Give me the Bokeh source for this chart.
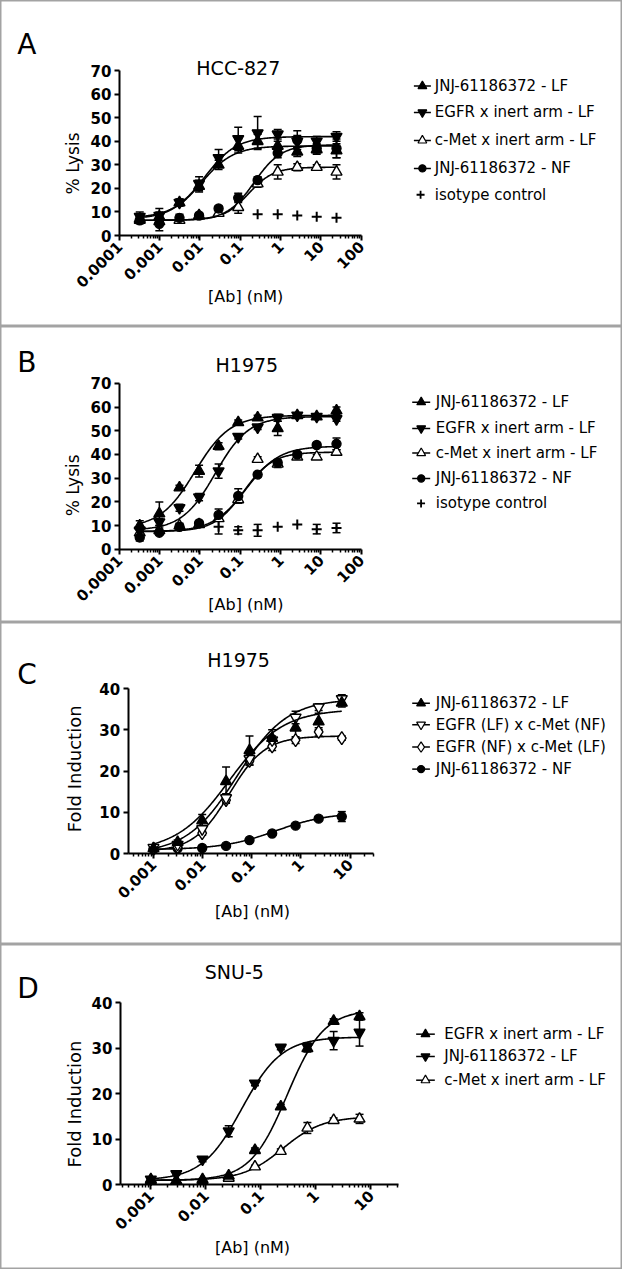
import math
import numpy as np
from bokeh.plotting import figure
from bokeh.layouts import column
from bokeh.models import (Range1d, LinearAxis, LogAxis, FixedTicker, CustomJSTickFormatter,
                          ColumnDataSource, Whisker, TeeHead, LinearScale)
from bokeh.core.properties import value
from bokeh.embed import file_html
from bokeh.resources import INLINE

# ---------------- data ----------------
# Panel A : HCC-827, % Lysis
conc_A = [0.00032, 0.00098, 0.0031, 0.0095, 0.029, 0.089, 0.27, 0.85, 2.6, 7.9, 24.5]
A_jnj_lf = [7, 8, 14, 21, 30, 38, 40, 38, 35.5, 36.5, 36]
A_jnj_lf_err = [1.5, 2, 1.5, 2.5, 2, 3, 3, 2, 2, 2, 3]
A_egfr = [8, 8.5, 14, 22, 33, 41, 43.5, 43, 40, 40, 42]
A_egfr_err = [2, 3, 1.5, 3, 3.5, 5, 7, 2, 2.5, 2, 2]
A_cmet = [6.5, 6, 6.5, 8.5, 9.5, 12, 22, 27, 29, 29, 27]
A_cmet_err = [1, 1, 1, 1, 1, 2.5, 1.5, 3, 1.5, 1, 3]
A_nf = [6.5, 5, 7.5, 8.5, 11.5, 16, 23.5, 35, 40.5, 37, 37]
A_nf_err = [1.5, 3, 1.5, 1, 1, 2, 1.5, 2, 4, 2, 4]
A_iso_conc = [0.27, 0.85, 2.6, 7.9, 24.5]
A_iso = [9, 9, 8.5, 8, 7.5]
# 4PL fit parameters [bottom, top, EC50, hill]
A_fit_jnj_lf = [7, 38, 0.011, 1.1]
A_fit_egfr = [7.5, 42, 0.013, 1.1]
A_fit_cmet = [6.5, 29, 0.16, 1.4]
A_fit_nf = [6.5, 38.5, 0.22, 1.3]

# Panel B : H1975, % Lysis
conc_B = [0.00032, 0.00098, 0.0031, 0.0095, 0.029, 0.089, 0.27, 0.85, 2.6, 7.9, 24.5]
B_jnj_lf = [10, 15, 26, 33, 43.5, 53.5, 55.5, 51, 56.5, 56, 58.5]
B_jnj_lf_err = [2, 5, 1, 2.5, 1.5, 1, 1, 3, 1, 1, 1.5]
B_egfr = [8, 11.5, 17.5, 22, 33, 47.5, 51.5, 55.5, 56.5, 56, 55]
B_egfr_err = [1.5, 1.5, 1.5, 1.5, 3, 1, 1, 1.5, 1, 1, 1]
B_cmet = [7, 8, 10, 10.5, 13, 21, 38, 36, 39, 39, 41]
B_cmet_err = [1, 1, 1, 1, 1, 1.5, 1, 1.5, 1, 1, 1]
B_nf = [5, 7, 9.5, 11, 14.5, 22.5, 31.5, 36.5, 40, 44, 44.5]
B_nf_err = [1.5, 1, 1, 1, 2.5, 3, 1, 1, 1, 1, 2.5]
B_iso_conc = [0.029, 0.089, 0.27, 0.85, 2.6, 7.9, 24.5]
B_iso = [9.5, 8, 8, 9.5, 10.5, 8.5, 9]
B_iso_err = [3, 1.5, 2.5, 0, 0, 2, 2]
B_fit_jnj_lf = [9, 56.5, 0.0075, 1.0]
B_fit_egfr = [8, 56, 0.024, 1.05]
B_fit_cmet = [7.5, 41, 0.12, 1.2]
B_fit_nf = [7.5, 43.5, 0.14, 1.05]

# Panel C : H1975, Fold Induction
conc_C = [0.001, 0.0031, 0.0098, 0.03, 0.09, 0.26, 0.78, 2.3, 6.8]
C_jnj_lf = [1.3, 2.8, 8, 17.5, 25, 28, 30.5, 32, 36.5]
C_jnj_lf_err = [0.5, 0.5, 1.5, 3.5, 3.5, 2, 2.5, 2, 1]
C_egfr_lf = [1.5, 2.2, 6, 13.5, 23, 27.5, 33, 35.5, 37.5]
C_egfr_lf_err = [0.5, 0.5, 0.8, 1, 1, 1, 1.5, 0.8, 1]
C_egfr_nf = [1.2, 1.6, 5, 13, 22.5, 26, 27.5, 29.5, 28]
C_egfr_nf_err = [0.3, 0.3, 0.5, 0.8, 1, 1, 0.8, 1, 0.5]
C_nf = [1.1, 1.3, 1.4, 1.9, 3.3, 4.9, 6.8, 8.5, 9]
C_nf_err = [0.2, 0.2, 0.2, 0.2, 0.3, 0.3, 0.4, 0.5, 1.2]
C_fit_jnj_lf = [0.5, 35, 0.035, 0.8]
C_fit_egfr_lf = [0, 37.5, 0.05, 0.85]
C_fit_egfr_nf = [0.5, 28.5, 0.035, 1.2]
C_fit_nf = [1, 10, 0.3, 0.8]

# Panel D : SNU-5, Fold Induction
conc_D = [0.001, 0.0029, 0.0087, 0.026, 0.078, 0.23, 0.70, 2.1, 6.2]
D_egfr = [1.0, 0.8, 1.2, 2.0, 7.6, 17.2, 30, 36, 37]
D_egfr_err = [0.3, 0.2, 0.2, 0.3, 0.5, 0.5, 0.8, 0.5, 0.8]
D_jnj_lf = [1.2, 2.4, 5.6, 11.8, 22.3, 30.2, 30.4, 31.7, 33.5]
D_jnj_lf_err = [0.3, 0.3, 0.5, 1.2, 0.5, 0.5, 0.8, 2, 3]
D_cmet = [1.2, 0.9, 1.0, 1.5, 4.0, 7.4, 12.5, 14.2, 14.5]
D_cmet_err = [0.3, 0.2, 0.2, 0.3, 0.3, 0.5, 1.2, 0.5, 1]
D_fit_egfr = [1, 38.5, 0.3, 1.3]
D_fit_jnj_lf = [1, 32.5, 0.045, 1.2]
D_fit_cmet = [1, 15, 0.25, 1.2]

# tick values / labels
x_ticks_AB = [0.0001, 0.001, 0.01, 0.1, 1, 10, 100]
x_labels_AB = ["0.0001", "0.001", "0.01", "0.1", "1", "10", "100"]
x_ticks_CD = [0.001, 0.01, 0.1, 1, 10]
x_labels_CD = ["0.001", "0.01", "0.1", "1", "10"]
y_ticks_AB = [0, 10, 20, 30, 40, 50, 60, 70]
y_ticks_CD = [0, 10, 20, 30, 40]

legend_AB = ["JNJ-61186372 - LF", "EGFR x inert arm - LF", "c-Met x inert arm - LF",
             "JNJ-61186372 - NF", "isotype control"]
legend_C = ["JNJ-61186372 - LF", "EGFR (LF) x c-Met (NF)", "EGFR (NF) x c-Met (LF)",
            "JNJ-61186372 - NF"]
legend_D = ["EGFR x inert arm - LF", "JNJ-61186372 - LF", "c-Met x inert arm - LF"]

# ---------------- styling / geometry ----------------
FONT = "DejaVu Sans"
W = 622
SX = 622 / 633.0
SY = 1269 / 1285.0
BORDER = "#a3a3a3"

MK = {
    "up_f": ("triangle", "black", 11),
    "down_f": ("inverted_triangle", "black", 11),
    "up_o": ("triangle", "white", 11),
    "down_o": ("inverted_triangle", "white", 11),
    "circ": ("circle", "black", 9),
    "diam_o": ("diamond", "white", 13),
    "cross": ("cross", "black", 10),
}


def fourpl(x, prm):
    b, t, ec, h = prm
    x = np.asarray(x, dtype=float)
    return b + (t - b) / (1.0 + (ec / x) ** h)


def make_panel(cfg):
    hc = cfg["hc"]
    ytop = cfg["ytop"]
    ybot = ytop + hc / SY
    X0, L0, dec = cfg["X0"], cfg["L0"], cfg["dec"]
    Y0, ppu = cfg["Y0"], cfg["ppu"]
    xlo = 10 ** (L0 + (1 - X0) / dec)
    xhi = 10 ** (L0 + (634 - X0) / dec)
    ylo = (Y0 - ybot) / ppu
    yhi = (Y0 - ytop) / ppu
    p = figure(width=W, height=hc, x_axis_type="log",
               x_range=Range1d(xlo, xhi), y_range=Range1d(ylo, yhi),
               output_backend="svg", toolbar_location=None, min_border=0)
    p.below = []
    p.left = []
    p.center = []
    p.outline_line_color = BORDER
    p.outline_line_width = 2
    p.background_fill_color = "white"
    p.border_fill_color = "white"
    p.extra_x_ranges = {"px": Range1d(1, 634)}
    p.extra_x_scales = {"px": LinearScale()}
    p.extra_y_ranges = {"py": Range1d(ybot, ytop)}
    p.extra_y_scales = {"py": LinearScale()}

    xs, xe = 10 ** cfg["Ls"], 10 ** cfg["Le"]
    ticks, labels = cfg["xticks"], cfg["xlabels"]
    minor = [m * 10.0 ** e for e in range(-6, 4) for m in range(2, 10)]
    minor = [v for v in minor if xs <= v <= xe]
    fmt = CustomJSTickFormatter(args=dict(vals=ticks, labs=labels), code="""
        for (let i = 0; i < vals.length; i++) {
            if (Math.abs(Math.log10(tick) - Math.log10(vals[i])) < 1e-6) { return labs[i]; }
        }
        return "";
    """)
    xa = LogAxis(fixed_location=0, bounds=(xs, xe),
                 ticker=FixedTicker(ticks=ticks, minor_ticks=minor), formatter=fmt)
    yt = cfg["yticks"]
    ya = LinearAxis(fixed_location=xs, bounds=(yt[0], yt[-1]),
                    ticker=FixedTicker(ticks=yt, minor_ticks=[]))
    for ax in (xa, ya):
        ax.axis_line_width = 2
        ax.axis_line_color = "black"
        ax.major_tick_line_width = 2
        ax.major_tick_line_color = "black"
        ax.major_tick_out = 5
        ax.major_tick_in = 0
        ax.minor_tick_line_width = 1.5
        ax.minor_tick_line_color = "black"
        ax.minor_tick_out = 3
        ax.minor_tick_in = 0
        ax.major_label_text_font = FONT
        ax.major_label_text_font_style = "bold"
        ax.major_label_text_font_size = "15px"
        ax.major_label_text_color = "black"
        ax.major_label_standoff = 3
    xa.major_label_orientation = math.pi / 4
    p.add_layout(xa, "below")
    p.add_layout(ya, "left")

    # data
    for s in cfg["series"]:
        marker, fill, size = MK[s["mk"]]
        x, y = s["x"], s["y"]
        if s.get("fit") is not None:
            xg = np.logspace(math.log10(min(x)), math.log10(max(x)), 240)
            p.line(xg, fourpl(xg, s["fit"]), line_color="black", line_width=1.6)
        if s.get("err") is not None:
            bx, lo, hi = [], [], []
            for xi, yi, ei in zip(x, y, s["err"]):
                if ei > 0:
                    bx.append(xi)
                    lo.append(yi - ei)
                    hi.append(yi + ei)
            src = ColumnDataSource(dict(x=bx, lo=lo, hi=hi))
            w = Whisker(source=src, base="x", lower="lo", upper="hi", dimension="height",
                        line_color="black", line_width=1.5,
                        upper_head=TeeHead(size=8, line_width=1.5, line_color="black"),
                        lower_head=TeeHead(size=8, line_width=1.5, line_color="black"))
            p.add_layout(w)
        p.scatter(x, y, marker=marker, size=size, fill_color=fill, line_color="black",
                  line_width=2 if s["mk"] == "cross" else 1.4)

    def T(X, Y, s, size, align="center", baseline="middle", angle=0.0):
        p.text(x=[X], y=[Y], text=[s], x_range_name="px", y_range_name="py",
               text_font=value(FONT), text_font_size=size, text_align=align,
               text_baseline=baseline, angle=angle, text_color="black")

    T(cfg["letter"][0], cfg["letter"][1], cfg["letter"][2], "28px", align="left",
      baseline="alphabetic")
    T(cfg["title"][0], cfg["title"][1], cfg["title"][2], "19px")
    T(cfg["ytitle"][0], cfg["ytitle"][1], cfg["ytitle"][2], cfg["ytitle"][3], angle=math.pi / 2)
    T(cfg["xtitle"][0], cfg["xtitle"][1], "[Ab] (nM)", "16px")

    lg = cfg["legend"]
    for label, mk, Y in zip(lg["labels"], lg["markers"], lg["rows"]):
        marker, fill, size = MK[mk]
        if mk != "cross":
            p.line([lg["x1"], lg["x2"]], [Y, Y], x_range_name="px", y_range_name="py",
                   line_color="black", line_width=1.5)
            mx = (lg["x1"] + lg["x2"]) / 2.0
        else:
            mx = lg["xc"]
        p.scatter([mx], [Y], marker=marker, size=size * 0.8, fill_color=fill,
                  line_color="black", line_width=1.8 if mk == "cross" else 1.2,
                  x_range_name="px", y_range_name="py")
        T(lg["xt"], Y, label, "15px", align="left")
    return p


H = [326, 296, 322, 325]
TOPS = [0.0, H[0] / SY, (H[0] + H[1]) / SY, (H[0] + H[1] + H[2]) / SY]

cfgA = dict(
    hc=H[0], ytop=TOPS[0], X0=122, L0=-4, dec=41, Ls=-4, Le=2, Y0=238, ppu=167 / 70.0,
    xticks=x_ticks_AB, xlabels=x_labels_AB, yticks=y_ticks_AB,
    series=[
        dict(x=conc_A, y=A_cmet, err=A_cmet_err, fit=A_fit_cmet, mk="up_o"),
        dict(x=conc_A, y=A_nf, err=A_nf_err, fit=A_fit_nf, mk="circ"),
        dict(x=conc_A, y=A_jnj_lf, err=A_jnj_lf_err, fit=A_fit_jnj_lf, mk="up_f"),
        dict(x=conc_A, y=A_egfr, err=A_egfr_err, fit=A_fit_egfr, mk="down_f"),
        dict(x=A_iso_conc, y=A_iso, err=None, fit=None, mk="cross"),
    ],
    letter=(18, 45, "A"), title=(243, 68, "HCC-827"), ytitle=(75, 165, "% Lysis", "17px"),
    xtitle=(250.5, 300),
    legend=dict(labels=legend_AB, markers=["up_f", "down_f", "up_o", "circ", "cross"],
                rows=[86.7, 113.3, 141.7, 170, 196.7], x1=421.7, x2=439, xc=428.5, xt=443),
)

cfgB = dict(
    hc=H[1], ytop=TOPS[1], X0=122, L0=-4, dec=41, Ls=-4, Le=2, Y0=555.7, ppu=2.4,
    xticks=x_ticks_AB, xlabels=x_labels_AB, yticks=y_ticks_AB,
    series=[
        dict(x=conc_B, y=B_cmet, err=B_cmet_err, fit=B_fit_cmet, mk="up_o"),
        dict(x=conc_B, y=B_nf, err=B_nf_err, fit=B_fit_nf, mk="circ"),
        dict(x=conc_B, y=B_jnj_lf, err=B_jnj_lf_err, fit=B_fit_jnj_lf, mk="up_f"),
        dict(x=conc_B, y=B_egfr, err=B_egfr_err, fit=B_fit_egfr, mk="down_f"),
        dict(x=B_iso_conc, y=B_iso, err=B_iso_err, fit=None, mk="cross"),
    ],
    letter=(18, 367, "B"), title=(251.7, 369, "H1975"), ytitle=(75, 491, "% Lysis", "17px"),
    xtitle=(250.7, 612),
    legend=dict(labels=legend_AB, markers=["up_f", "down_f", "up_o", "circ", "cross"],
                rows=[406.7, 433.3, 458.3, 484, 509.3], x1=420, x2=438.3, xc=429, xt=444),
)

cfgC = dict(
    hc=H[2], ytop=TOPS[2], X0=156.7, L0=-3, dec=50, Ls=-3.514, Le=1.48, Y0=864, ppu=4.1825,
    xticks=x_ticks_CD, xlabels=x_labels_CD, yticks=y_ticks_CD,
    series=[
        dict(x=conc_C, y=C_nf, err=C_nf_err, fit=C_fit_nf, mk="circ"),
        dict(x=conc_C, y=C_egfr_nf, err=C_egfr_nf_err, fit=C_fit_egfr_nf, mk="diam_o"),
        dict(x=conc_C, y=C_egfr_lf, err=C_egfr_lf_err, fit=C_fit_egfr_lf, mk="down_o"),
        dict(x=conc_C, y=C_jnj_lf, err=C_jnj_lf_err, fit=C_fit_jnj_lf, mk="up_f"),
    ],
    letter=(18, 682, "C"), title=(243.3, 667.5, "H1975"),
    ytitle=(76.5, 778, "Fold Induction", "18px"), xtitle=(257.5, 922),
    legend=dict(labels=legend_C, markers=["up_f", "down_o", "diam_o", "circ"],
                rows=[711.7, 733.3, 756, 778.3], x1=420, x2=438, xc=429, xt=444),
)

cfgD = dict(
    hc=H[3], ytop=TOPS[3], X0=154, L0=-3, dec=56, Ls=-3.554, Le=1.5, Y0=1199.3, ppu=4.6075,
    xticks=x_ticks_CD, xlabels=x_labels_CD, yticks=y_ticks_CD,
    series=[
        dict(x=conc_D, y=D_cmet, err=D_cmet_err, fit=D_fit_cmet, mk="up_o"),
        dict(x=conc_D, y=D_egfr, err=D_egfr_err, fit=D_fit_egfr, mk="up_f"),
        dict(x=conc_D, y=D_jnj_lf, err=D_jnj_lf_err, fit=D_fit_jnj_lf, mk="down_f"),
    ],
    letter=(18, 1000, "D"), title=(239, 984, "SNU-5"),
    ytitle=(76.5, 1117.5, "Fold Induction", "18px"), xtitle=(257.5, 1263),
    legend=dict(labels=legend_D, markers=["up_f", "down_f", "up_o"],
                rows=[1046.7, 1069.3, 1093.3], x1=424, x2=443, xc=433, xt=452.7),
)

layout = column(make_panel(cfgA), make_panel(cfgB), make_panel(cfgC), make_panel(cfgD),
                spacing=0)
open("out.html", "w").write(file_html(layout, INLINE, title="Figure"))
